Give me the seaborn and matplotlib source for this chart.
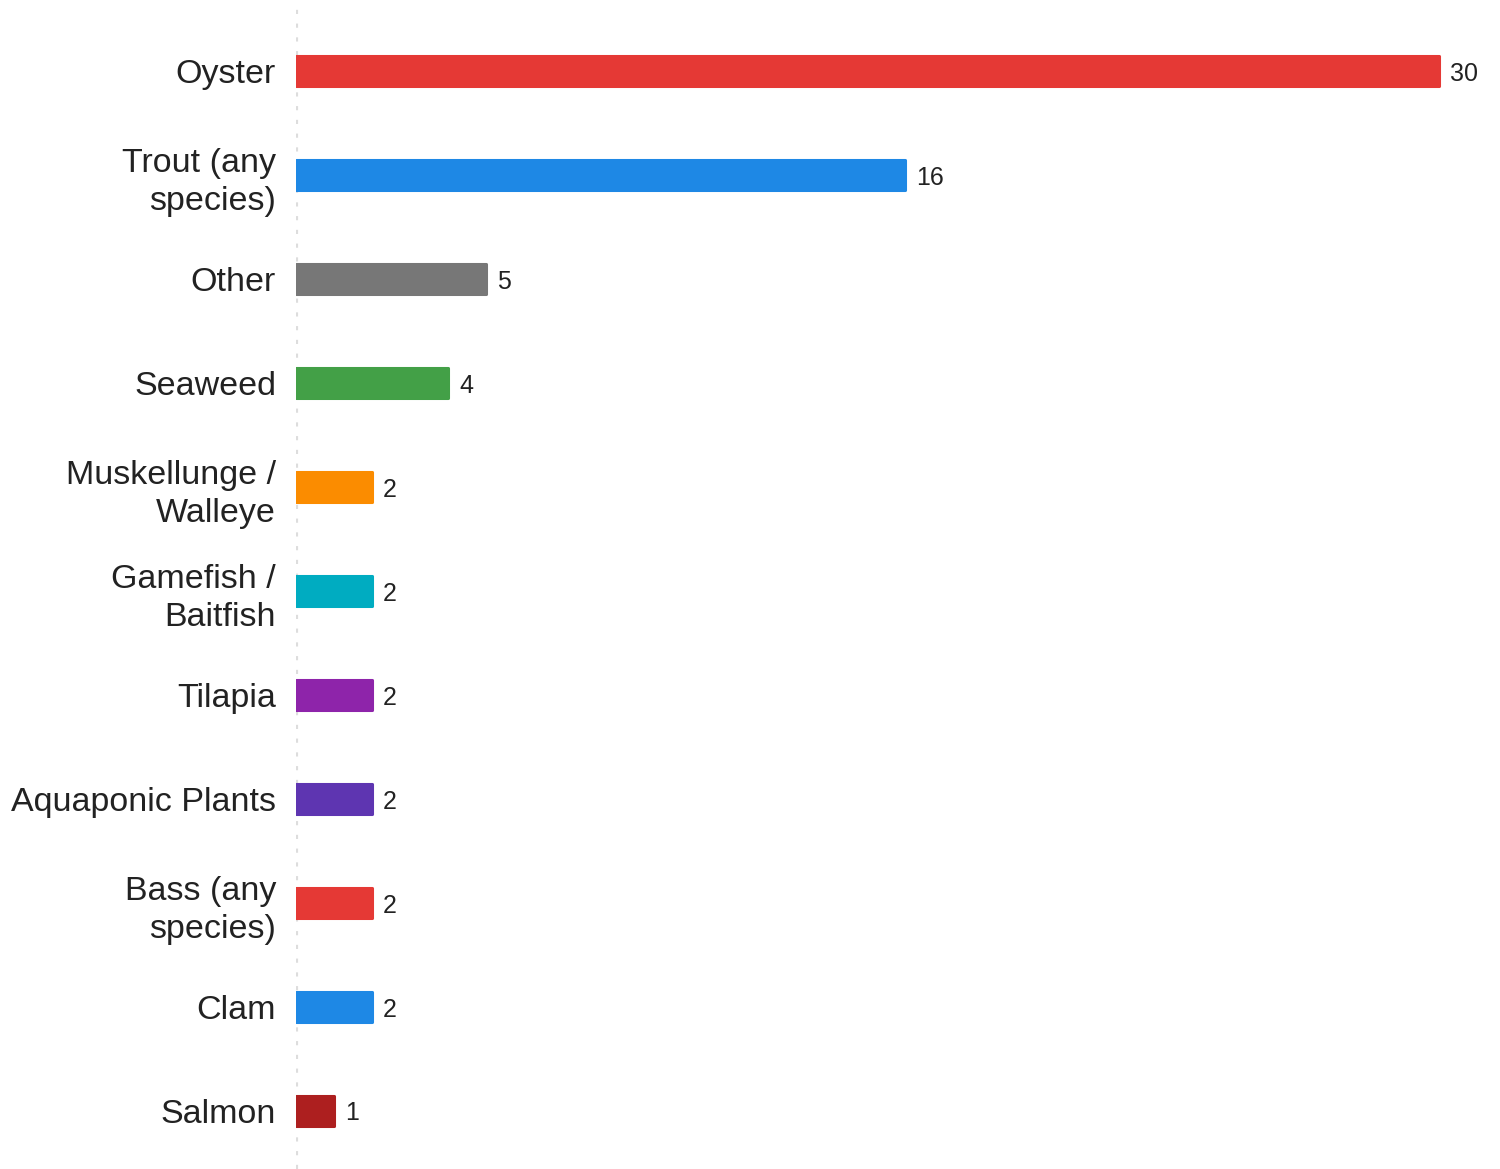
import pandas as pd
import seaborn as sns
import matplotlib.pyplot as plt

species = ["Oyster", "Trout (any\nspecies)", "Other", "Seaweed", "Muskellunge /\nWalleye",
           "Gamefish /\nBaitfish", "Tilapia", "Aquaponic Plants", "Bass (any\nspecies)", "Clam", "Salmon"]
counts = [30, 16, 5, 4, 2, 2, 2, 2, 2, 2, 1]
colors = ["#E53935", "#1E88E5", "#777777", "#43A047", "#FB8C00", "#00ACC1",
          "#8E24AA", "#5E35B1", "#E53935", "#1E88E5", "#AD1F1F"]

df = pd.DataFrame({"species": species, "count": counts})

sns.set_style("white")
plt.rcParams['font.family'] = ['Liberation Sans', 'DejaVu Sans']

fig = plt.figure(figsize=(15, 11.69), dpi=100)
ax = fig.add_axes([295.5 / 1500, 0, (1500 - 295.5) / 1500, 1])

sns.barplot(
    data=df,
    x="count",
    y="species",
    hue="species",
    palette=colors,
    saturation=1,
    legend=False,
    width=0.28,
    ax=ax
)

# rounded corners via a thick edge with round joins
for c in ax.containers:
    for bar in c:
        bar.set_edgecolor(bar.get_facecolor())
        bar.set_linewidth(2.2)
        bar.set_joinstyle("round")
    labels = ax.bar_label(c, padding=8, fontsize=18, color="#222222")
    for lb in labels:
        lb.set_va("center_baseline")

ax.set_xlim(0, (1500 - 295.5) / 38.1)
ax.set_ylim((1169 - 71) / 104, -71 / 104)
ax.axvline(0, ymin=0, ymax=1 - 9 / 1169, color="#dddddd", lw=3,
           linestyle=(0, (1.0, 2.3)), zorder=0)

ax.set_xlabel("")
ax.set_ylabel("")
ax.set_xticks([])
ax.tick_params(axis="y", length=0, pad=14, labelsize=24.5, labelcolor="#222222")
for t in ax.get_yticklabels():
    t.set_linespacing(1.3)
sns.despine(ax=ax, left=True, bottom=True)

plt.savefig("out.png", dpi=100)
